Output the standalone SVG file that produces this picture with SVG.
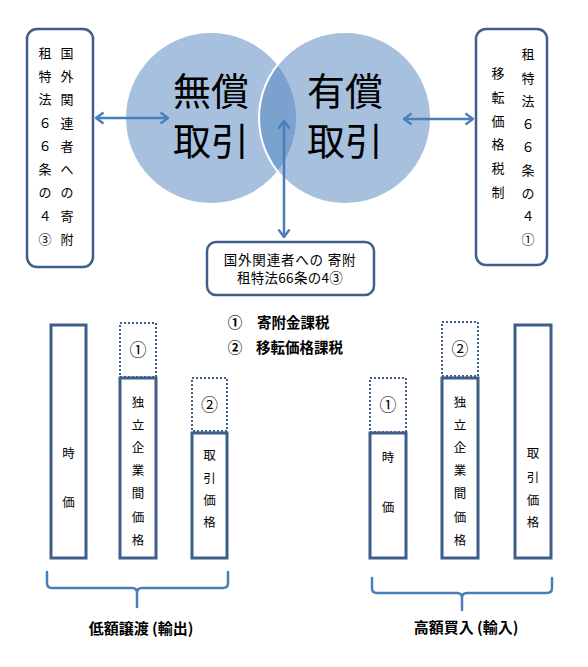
<svg xmlns="http://www.w3.org/2000/svg" width="588" height="667" viewBox="0 0 588 667">
<style>
.t{font-family:"Noto Sans CJK JP","Noto Sans",sans-serif;fill:#000}
.vt{font-size:13px;text-anchor:middle}
.bt{font-size:12.5px;text-anchor:middle}
.num{font-size:17px;text-anchor:middle}
.big{font-size:38px;text-anchor:middle}
.bold{font-weight:bold}
.box{fill:#fff;stroke:#3F5F8A;stroke-width:2.5}
.bar{fill:#fff;stroke:#3F5F8A;stroke-width:3}
.dot{fill:#fff;stroke:#3F5F8A;stroke-width:2;stroke-dasharray:2 2}
.circ{fill:#4F81BD;fill-opacity:0.5;stroke:#fff;stroke-width:2}
.conn{fill:none;stroke:#4A7EBB;stroke-width:2.5}
.brace{fill:none;stroke:#4A7EBB;stroke-width:2.5;stroke-linecap:round}
</style>
<defs>
<marker id="ah" viewBox="0 0 10 14" refX="9" refY="7" markerWidth="10" markerHeight="14" markerUnits="userSpaceOnUse" orient="auto-start-reverse">
<path d="M1.5,1.5 L9,7 L1.5,12.5" fill="none" stroke="#4A7EBB" stroke-width="2.4"/>
</marker>
</defs>
<rect width="588" height="667" fill="#fff"/>

<g id="venn">
<circle class="circ" cx="211" cy="118" r="86"/>
<circle class="circ" cx="345" cy="118" r="86"/>
<text class="t big" x="211" y="105">無償</text>
<text class="t big" x="211" y="155">取引</text>
<text class="t big" x="345" y="105">有償</text>
<text class="t big" x="345" y="155">取引</text>
</g>

<g id="connectors">
<line class="conn" x1="96" y1="118" x2="168" y2="118" marker-start="url(#ah)" marker-end="url(#ah)"/>
<line class="conn" x1="404" y1="119" x2="473" y2="119" marker-start="url(#ah)" marker-end="url(#ah)"/>
<line class="conn" x1="284" y1="121" x2="284" y2="237" marker-start="url(#ah)" marker-end="url(#ah)"/>
</g>

<g id="box-left">
<rect class="box" x="27" y="29" width="66" height="238" rx="10"/>
<text class="t vt"><tspan x="45" y="58">租</tspan><tspan x="45" y="81">特</tspan><tspan x="45" y="104">法</tspan><tspan x="45" y="128">６</tspan><tspan x="45" y="151">６</tspan><tspan x="45" y="174">条</tspan><tspan x="45" y="197">の</tspan><tspan x="45" y="221">４</tspan><tspan x="45" y="244">③</tspan></text>
<text class="t vt"><tspan x="67" y="58">国</tspan><tspan x="67" y="81">外</tspan><tspan x="67" y="104">関</tspan><tspan x="67" y="128">連</tspan><tspan x="67" y="151">者</tspan><tspan x="67" y="174">へ</tspan><tspan x="67" y="197">の</tspan><tspan x="67" y="221">寄</tspan><tspan x="67" y="244">附</tspan></text>
</g>

<g id="box-right">
<rect class="box" x="476" y="29" width="71" height="236" rx="10"/>
<text class="t vt"><tspan x="498" y="78">移</tspan><tspan x="498" y="102">転</tspan><tspan x="498" y="126">価</tspan><tspan x="498" y="149">格</tspan><tspan x="498" y="173">税</tspan><tspan x="498" y="197">制</tspan></text>
<text class="t vt"><tspan x="528" y="59">租</tspan><tspan x="528" y="83">特</tspan><tspan x="528" y="106">法</tspan><tspan x="528" y="129">６</tspan><tspan x="528" y="152">６</tspan><tspan x="528" y="175">条</tspan><tspan x="528" y="198">の</tspan><tspan x="528" y="221">４</tspan><tspan x="528" y="244">①</tspan></text>
</g>

<g id="box-middle">
<rect class="box" x="207" y="242" width="167" height="53" rx="9"/>
<text class="t" font-size="13.5" letter-spacing="0.8" text-anchor="middle" x="290" y="265">国外関連者への 寄附</text>
<text class="t" font-size="13.5" letter-spacing="0.3" text-anchor="middle" x="290" y="283">租特法66条の4③</text>
</g>

<g id="legend">
<text class="t bold" font-size="14.5" text-anchor="middle" x="235" y="328">①</text>
<text class="t bold" font-size="14.5" x="257" y="328">寄附金課税</text>
<text class="t bold" font-size="14.5" text-anchor="middle" x="235" y="353">②</text>
<text class="t bold" font-size="14.5" x="256" y="353">移転価格課税</text>
</g>

<g id="left-bar-jika">
<rect class="bar" x="51" y="325" width="35" height="233"/>
<text class="t bt"><tspan x="68.5" y="458">時</tspan><tspan x="68.5" y="507">価</tspan></text>
</g>
<g id="left-bar-dokuritsu">
<rect class="dot" x="120" y="323" width="36" height="54"/>
<text class="t num" x="138" y="356">①</text>
<rect class="bar" x="120" y="378" width="36" height="180"/>
<text class="t bt"><tspan x="138" y="407">独</tspan><tspan x="138" y="430">立</tspan><tspan x="138" y="452">企</tspan><tspan x="138" y="475">業</tspan><tspan x="138" y="498">間</tspan><tspan x="138" y="522">価</tspan><tspan x="138" y="545">格</tspan></text>
</g>
<g id="left-bar-torihiki">
<rect class="dot" x="192" y="378" width="35" height="53"/>
<text class="t num" x="209.5" y="411">②</text>
<rect class="bar" x="192" y="433" width="35" height="125"/>
<text class="t bt"><tspan x="209.5" y="460">取</tspan><tspan x="209.5" y="483">引</tspan><tspan x="209.5" y="505">価</tspan><tspan x="209.5" y="527">格</tspan></text>
</g>

<g id="right-bar-jika">
<rect class="dot" x="370" y="378" width="36" height="54"/>
<text class="t num" x="388" y="411">①</text>
<rect class="bar" x="370" y="433" width="36" height="125"/>
<text class="t bt"><tspan x="388" y="462">時</tspan><tspan x="388" y="512">価</tspan></text>
</g>
<g id="right-bar-dokuritsu">
<rect class="dot" x="442" y="322" width="36" height="54"/>
<text class="t num" x="460" y="355">②</text>
<rect class="bar" x="442" y="378" width="36" height="180"/>
<text class="t bt"><tspan x="460" y="407">独</tspan><tspan x="460" y="430">立</tspan><tspan x="460" y="452">企</tspan><tspan x="460" y="475">業</tspan><tspan x="460" y="498">間</tspan><tspan x="460" y="522">価</tspan><tspan x="460" y="545">格</tspan></text>
</g>
<g id="right-bar-torihiki">
<rect class="bar" x="515" y="325" width="36" height="233"/>
<text class="t bt"><tspan x="533" y="458">取</tspan><tspan x="533" y="482">引</tspan><tspan x="533" y="505">価</tspan><tspan x="533" y="527">格</tspan></text>
</g>

<g id="bracket-left">
<path class="brace" d="M47,572 V583 Q47,588 52,588 H132 Q137,588 137,593 V607 M137,593 Q137,588 142,588 H223 Q228,588 228,583 V572"/>
<text class="t bold" font-size="15" text-anchor="middle" x="141" y="634">低額譲渡 (輸出)</text>
</g>
<g id="bracket-right">
<path class="brace" d="M372,578 V588 Q372,593 377,593 H457 Q462,593 462,598 V610 M462,598 Q462,593 467,593 H547 Q552,593 552,588 V578"/>
<text class="t bold" font-size="15" text-anchor="middle" x="466" y="633">高額買入 (輸入)</text>
</g>
</svg>
